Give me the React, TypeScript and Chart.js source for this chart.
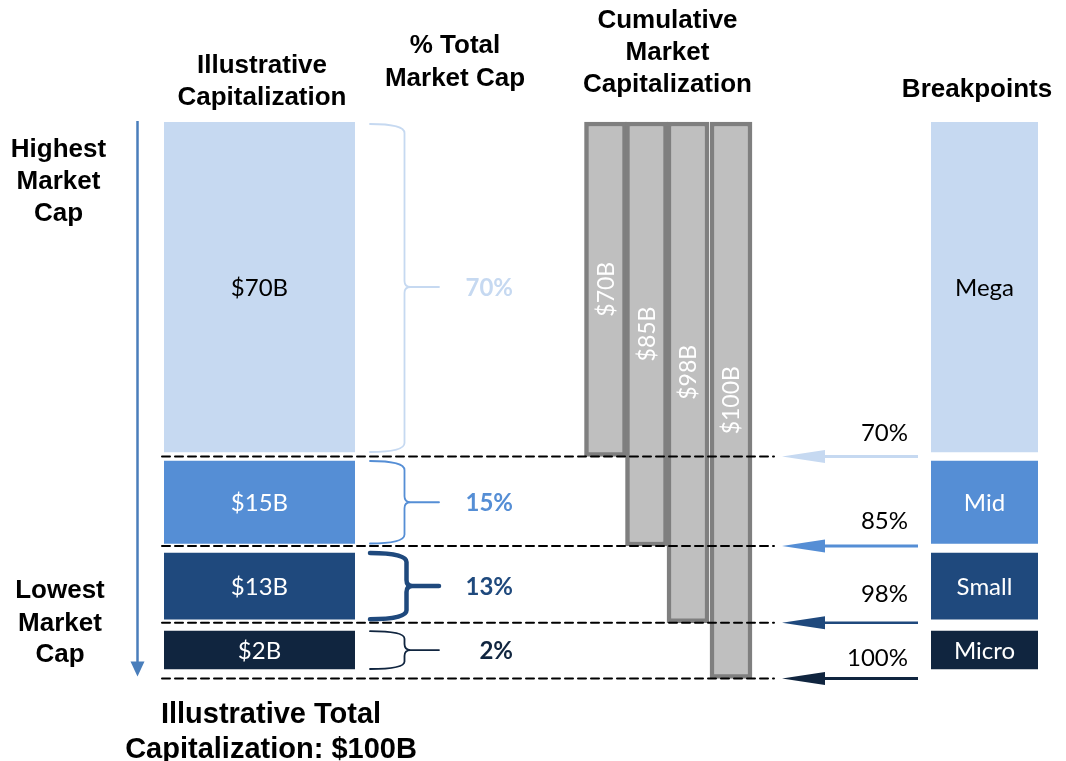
import React, { useEffect, useRef } from 'react';
import { Chart, registerables, LinearScale } from 'chart.js';

// ---------------- data ----------------
const SEGMENTS = ['Mega', 'Mid', 'Small', 'Micro'];
const CAP_BILLIONS = [70, 15, 13, 2];
const CUMULATIVE_BILLIONS = [70, 85, 98, 100];
const PCT_OF_TOTAL = [70, 15, 13, 2];
const BREAKPOINT_PCT = [70, 85, 98, 100];
const TOTAL_BILLIONS = 100;

const HEADER_ILLUSTRATIVE = ['Illustrative', 'Capitalization'];
const HEADER_PCT = ['% Total', 'Market Cap'];
const HEADER_CUMULATIVE = ['Cumulative', 'Market', 'Capitalization'];
const HEADER_BREAKPOINTS = ['Breakpoints'];
const LABEL_HIGHEST = ['Highest', 'Market', 'Cap'];
const LABEL_LOWEST = ['Lowest', 'Market', 'Cap'];
const FOOTER = ['Illustrative Total', `Capitalization: $${TOTAL_BILLIONS}B`];

// ---------------- styles / layout ----------------
const SEG_COLORS = ['#c6d9f1', '#558ed5', '#1f497d', '#10253f'];
const SEG_TEXT = ['#000000', '#ffffff', '#ffffff', '#ffffff'];
const BRACE_WIDTHS = [1.8, 1.8, 4.5, 1.8];
const ARROW_WIDTHS = [3, 3, 2.5, 3];
const INSET_TOP = [0, 4.5, 7, 8.5];
const INSET_BOTTOM = [4.5, 2.5, 3.5, 9.5];
const PCT_TEXT_OFFSET = [24, 26, 29, 21];

// visual (not-to-scale) placement of the cumulative boundaries, as fraction of plot height
const BAND_FRACTIONS = [0, 0.6011, 0.7619, 0.8997, 1];
const BAND_VALUES = [0, ...CUMULATIVE_BILLIONS];

const COL = {
  illustrativeX: 259.5,
  illustrativeW: 191,
  cumulativeX: [605.5, 646.5, 688, 731],
  cumulativeW: 42,
  breakpointX: 984.5,
  breakpointW: 107,
  braceX0: 370,
  braceXV: 404.5,
  braceXT: 439,
  pctRight: 513,
  dashX0: 162,
  dashX1: 774,
  arrowX0: 918,
  arrowTip: 782,
  arrowHeadLen: 43,
  arrowHalf: 6.5,
  pctTextRight: 908,
  downArrowX: 137.5,
};

const BOLD = '"Liberation Sans", Arial, sans-serif';
const BODY = 'Lato, "Open Sans", sans-serif';

function interp(v: number, xs: number[], ys: number[]) {
  const n = xs.length - 1;
  if (v <= xs[0]) return ys[0] + ((v - xs[0]) * (ys[1] - ys[0])) / (xs[1] - xs[0]);
  for (let i = 1; i <= n; i++) {
    if (v <= xs[i]) {
      const t = (v - xs[i - 1]) / (xs[i] - xs[i - 1]);
      return ys[i - 1] + t * (ys[i] - ys[i - 1]);
    }
  }
  return ys[n] + ((v - xs[n]) * (ys[n] - ys[n - 1])) / (xs[n] - xs[n - 1]);
}

class BandScale extends LinearScale {
  static id = 'bandScale';
  static defaults = LinearScale.defaults;
  getPixelForValue(value: number) {
    if (value === null || value === undefined || isNaN(value)) return NaN;
    const f = interp(value, BAND_VALUES, BAND_FRACTIONS);
    return (this as any).top + f * ((this as any).bottom - (this as any).top);
  }
  getValueForPixel(pixel: number) {
    const top = (this as any).top;
    const h = (this as any).bottom - top;
    return interp((pixel - top) / h, BAND_FRACTIONS, BAND_VALUES);
  }
}

Chart.register(...registerables, BandScale);

function text(ctx: CanvasRenderingContext2D, s: string, x: number, capY: number, font: string, size: number, color: string, align: CanvasTextAlign = 'center') {
  ctx.font = font;
  ctx.fillStyle = color;
  ctx.textAlign = align;
  ctx.textBaseline = 'alphabetic';
  ctx.fillText(s, x, capY + size * 0.358);
}

function lines(ctx: CanvasRenderingContext2D, arr: string[], x: number, ys: number[], size: number) {
  arr.forEach((s, i) => text(ctx, s, x, ys[i], `bold ${size}px ${BOLD}`, size, '#000000'));
}

function brace(ctx: CanvasRenderingContext2D, top: number, bottom: number, mid: number, color: string, lw: number, xv: number) {
  const { braceX0: x0, braceXT: xt } = COL;
  const r = Math.min(9, (bottom - top) / 5);
  const r2 = 6;
  ctx.beginPath();
  ctx.moveTo(x0, top);
  ctx.quadraticCurveTo(xv, top, xv, top + r);
  ctx.lineTo(xv, mid - r2);
  ctx.quadraticCurveTo(xv, mid, xv + r2, mid);
  ctx.lineTo(xt, mid);
  ctx.moveTo(xv + r2, mid);
  ctx.quadraticCurveTo(xv, mid, xv, mid + r2);
  ctx.lineTo(xv, bottom - r);
  ctx.quadraticCurveTo(xv, bottom, x0, bottom);
  ctx.strokeStyle = color;
  ctx.lineWidth = lw;
  ctx.lineCap = 'round';
  ctx.lineJoin = 'round';
  ctx.stroke();
}

function innerRect(el: any, i: number) {
  const top = Math.min(el.y, el.base) + INSET_TOP[i];
  const bottom = Math.max(el.y, el.base) - INSET_BOTTOM[i];
  return { top, bottom, mid: (top + bottom) / 2 };
}

const overlay = {
  id: 'overlay',
  afterDatasetsDraw(chart: any) {
    const ctx: CanvasRenderingContext2D = chart.ctx;
    const ys = chart.scales.y;
    const illus = chart.getDatasetMeta(0).data;
    const cum = chart.getDatasetMeta(1).data;
    const bp = chart.getDatasetMeta(2).data;
    ctx.save();

    // headers and side labels
    lines(ctx, HEADER_ILLUSTRATIVE, 262, [64, 96], 26);
    lines(ctx, HEADER_PCT, 455, [44, 77], 26);
    lines(ctx, HEADER_CUMULATIVE, 667.5, [19, 51, 83], 26);
    lines(ctx, HEADER_BREAKPOINTS, 977, [87.5], 26);
    lines(ctx, LABEL_HIGHEST, 58.5, [147.5, 180, 212], 26);
    lines(ctx, LABEL_LOWEST, 60, [589, 622, 653], 26);
    lines(ctx, FOOTER, 271, [713, 747.5], 29);

    // down arrow (highest -> lowest)
    const yTop = ys.getPixelForValue(0) - 1;
    const yTip = ys.getPixelForValue(TOTAL_BILLIONS) - 2;
    ctx.strokeStyle = '#4a7ebb';
    ctx.fillStyle = '#4a7ebb';
    ctx.lineWidth = 2.5;
    ctx.beginPath();
    ctx.moveTo(COL.downArrowX, yTop);
    ctx.lineTo(COL.downArrowX, yTip - 14);
    ctx.stroke();
    ctx.beginPath();
    ctx.moveTo(COL.downArrowX - 7, yTip - 15);
    ctx.lineTo(COL.downArrowX + 7, yTip - 15);
    ctx.lineTo(COL.downArrowX, yTip);
    ctx.closePath();
    ctx.fill();

    // illustrative block labels, braces and percentages
    illus.forEach((el: any, i: number) => {
      const { top, bottom, mid } = innerRect(el, i);
      text(ctx, `$${CAP_BILLIONS[i]}B`, el.x, mid, `24px ${BODY}`, 24, SEG_TEXT[i]);
      brace(ctx, top + (i === 0 ? 2 : 0), bottom, mid, SEG_COLORS[i], BRACE_WIDTHS[i], i === 2 ? 406.5 : COL.braceXV);
      text(ctx, `${PCT_OF_TOTAL[i]}%`, COL.pctRight, mid, `bold 24px ${BODY}`, 24, SEG_COLORS[i], 'right');
    });

    // cumulative bar labels (rotated)
    cum.forEach((el: any, i: number) => {
      const cy = (Math.min(el.y, el.base) + Math.max(el.y, el.base)) / 2;
      ctx.save();
      ctx.translate(el.x, cy);
      ctx.rotate(-Math.PI / 2);
      text(ctx, `$${CUMULATIVE_BILLIONS[i]}B`, 0, 0, `23px ${BODY}`, 23, '#ffffff');
      ctx.restore();
    });

    // breakpoint block labels
    bp.forEach((el: any, i: number) => {
      const { mid } = innerRect(el, i);
      text(ctx, SEGMENTS[i], el.x, mid, `24px ${BODY}`, 24, SEG_TEXT[i]);
    });

    // dashed boundary lines
    ctx.setLineDash([8, 5]);
    ctx.strokeStyle = '#000000';
    ctx.lineWidth = 2;
    BREAKPOINT_PCT.forEach((p) => {
      const y = ys.getPixelForValue((p / 100) * TOTAL_BILLIONS);
      ctx.beginPath();
      ctx.moveTo(COL.dashX0, y);
      ctx.lineTo(COL.dashX1, y);
      ctx.stroke();
    });
    ctx.setLineDash([]);

    // breakpoint arrows and percentages
    BREAKPOINT_PCT.forEach((p, i) => {
      const y = ys.getPixelForValue((p / 100) * TOTAL_BILLIONS);
      const c = SEG_COLORS[i];
      ctx.strokeStyle = c;
      ctx.fillStyle = c;
      ctx.lineWidth = ARROW_WIDTHS[i];
      ctx.lineCap = 'butt';
      ctx.beginPath();
      ctx.moveTo(COL.arrowX0, y);
      ctx.lineTo(COL.arrowTip + COL.arrowHeadLen - 1, y);
      ctx.stroke();
      ctx.beginPath();
      ctx.moveTo(COL.arrowTip, y);
      ctx.lineTo(COL.arrowTip + COL.arrowHeadLen, y - COL.arrowHalf);
      ctx.lineTo(COL.arrowTip + COL.arrowHeadLen, y + COL.arrowHalf);
      ctx.closePath();
      ctx.fill();
      text(ctx, `${p}%`, COL.pctTextRight, y - PCT_TEXT_OFFSET[i], `24px ${BODY}`, 24, '#000000', 'right');
    });

    ctx.restore();
  },
};

export default function App() {
  const ref = useRef<HTMLCanvasElement | null>(null);
  useEffect(() => {
    if (!ref.current) return;
    const blockBorder = (c: any) => ({
      top: INSET_TOP[c.dataIndex],
      bottom: INSET_BOTTOM[c.dataIndex],
      left: 0,
      right: 0,
    });
    const chart = new Chart(ref.current, {
      type: 'bar',
      data: {
        datasets: [
          {
            label: 'Illustrative Capitalization',
            data: SEGMENTS.map((_, i) => ({
              x: COL.illustrativeX,
              y: [CUMULATIVE_BILLIONS[i] - CAP_BILLIONS[i], CUMULATIVE_BILLIONS[i]],
            })),
            backgroundColor: SEG_COLORS,
            borderColor: '#ffffff',
            borderWidth: blockBorder,
            borderSkipped: false,
            barThickness: COL.illustrativeW,
            grouped: false,
            clip: false,
          },
          {
            label: 'Cumulative Market Capitalization',
            data: CUMULATIVE_BILLIONS.map((v, i) => ({ x: COL.cumulativeX[i], y: [0, v] })),
            backgroundColor: '#bfbfbf',
            borderColor: '#7f7f7f',
            borderWidth: 4.5,
            borderSkipped: false,
            barThickness: COL.cumulativeW,
            grouped: false,
            clip: false,
          },
          {
            label: 'Breakpoints',
            data: BREAKPOINT_PCT.map((p, i) => ({
              x: COL.breakpointX,
              y: [i === 0 ? 0 : (BREAKPOINT_PCT[i - 1] / 100) * TOTAL_BILLIONS, (p / 100) * TOTAL_BILLIONS],
            })),
            backgroundColor: SEG_COLORS,
            borderColor: '#ffffff',
            borderWidth: blockBorder,
            borderSkipped: false,
            barThickness: COL.breakpointW,
            grouped: false,
            clip: false,
          },
        ],
      } as any,
      options: {
        animation: false,
        responsive: false,
        events: [],
        layout: { padding: { top: 122, bottom: 82.5, left: 0, right: 0 } },
        plugins: { legend: { display: false }, tooltip: { enabled: false } },
        scales: {
          x: { type: 'linear', min: 0, max: 1066, offset: false, display: false },
          y: { type: 'bandScale' as any, min: 0, max: TOTAL_BILLIONS, display: false },
        },
      } as any,
      plugins: [overlay],
    });
    return () => chart.destroy();
  }, []);
  return (
    <div style={{ position: 'absolute', left: 0, top: 0, width: 1066, height: 761, background: '#ffffff' }}>
      <canvas ref={ref} width={1066} height={761} style={{ display: 'block', width: 1066, height: 761 }} />
    </div>
  );
}
